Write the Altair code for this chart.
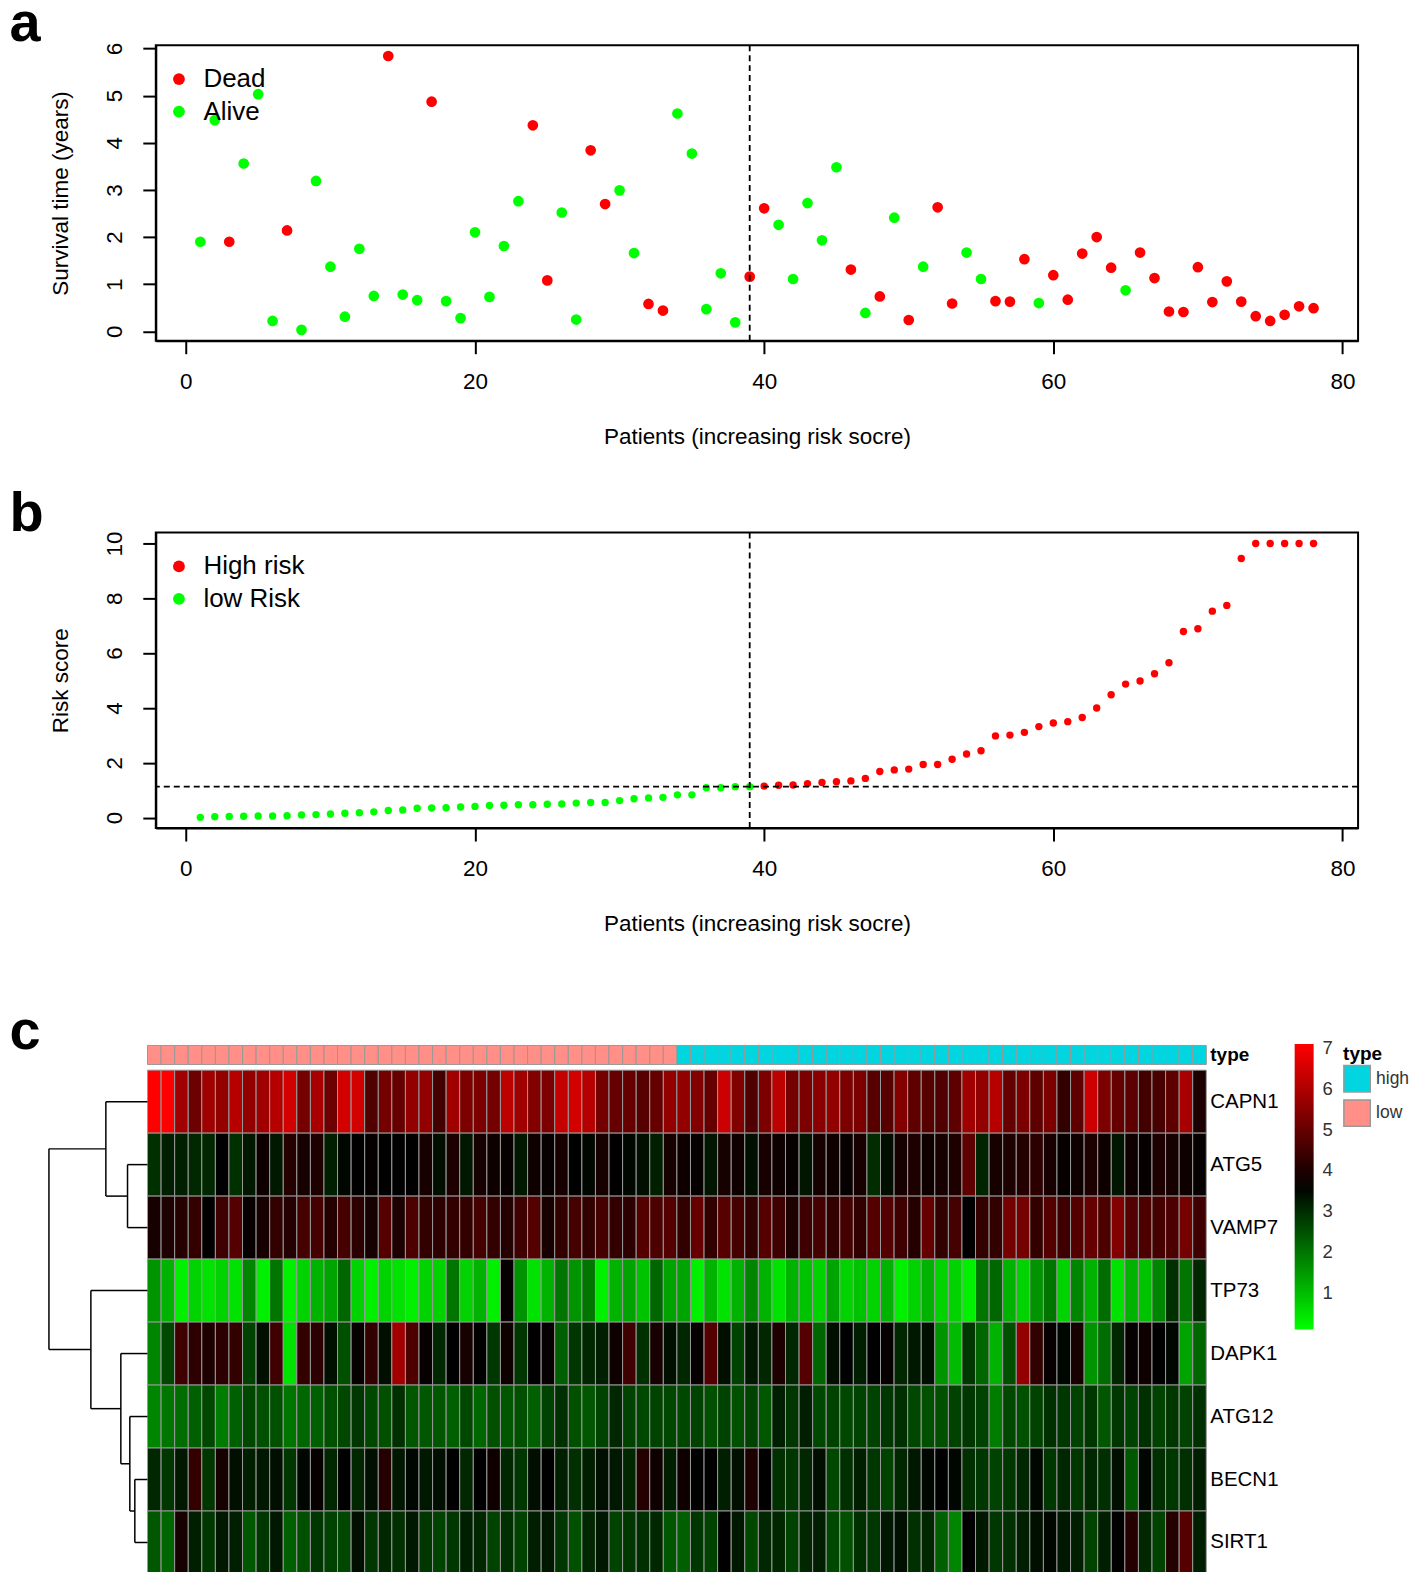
import altair as alt
import pandas as pd

FONT = "Liberation Sans"

# ---------------- data ----------------
patients = list(range(1, 79))

survival_years = [1.90, 4.48, 1.90, 3.56, 5.03, 0.22, 2.14, 0.03, 3.19, 1.37,
                  0.31, 1.75, 0.75, 5.84, 0.78, 0.66, 4.87, 0.64, 0.28, 2.10,
                  0.73, 1.81, 2.76, 4.37, 1.08, 2.52, 0.25, 3.84, 2.70, 2.99,
                  1.66, 0.58, 0.44, 4.62, 3.77, 0.47, 1.23, 0.19, 1.16, 2.61,
                  2.26, 1.11, 2.72, 1.93, 3.48, 1.31, 0.39, 0.74, 2.41, 0.24,
                  1.37, 2.63, 0.59, 1.67, 1.11, 0.64, 0.63, 1.53, 0.60, 1.19,
                  0.67, 1.65, 2.00, 1.35, 0.87, 1.67, 1.13, 0.42, 0.41, 1.36,
                  0.62, 1.06, 0.63, 0.32, 0.22, 0.35, 0.53, 0.49]

status = ["Alive", "Alive", "Dead", "Alive", "Alive", "Alive", "Dead", "Alive", "Alive", "Alive",
          "Alive", "Alive", "Alive", "Dead", "Alive", "Alive", "Dead", "Alive", "Alive", "Alive",
          "Alive", "Alive", "Alive", "Dead", "Dead", "Alive", "Alive", "Dead", "Dead", "Alive",
          "Alive", "Dead", "Dead", "Alive", "Alive", "Alive", "Alive", "Alive", "Dead", "Dead",
          "Alive", "Alive", "Alive", "Alive", "Alive", "Dead", "Alive", "Dead", "Alive", "Dead",
          "Alive", "Dead", "Dead", "Alive", "Alive", "Dead", "Dead", "Dead", "Alive", "Dead",
          "Dead", "Dead", "Dead", "Dead", "Alive", "Dead", "Dead", "Dead", "Dead", "Dead",
          "Dead", "Dead", "Dead", "Dead", "Dead", "Dead", "Dead", "Dead"]

risk_score = [0.01, 0.03, 0.04, 0.05, 0.06, 0.06, 0.07, 0.10, 0.11, 0.13,
              0.16, 0.18, 0.21, 0.26, 0.28, 0.34, 0.35, 0.36, 0.39, 0.41,
              0.44, 0.45, 0.47, 0.47, 0.49, 0.50, 0.53, 0.55, 0.55, 0.62,
              0.69, 0.72, 0.74, 0.83, 0.83, 1.09, 1.09, 1.13, 1.13, 1.15,
              1.18, 1.19, 1.24, 1.28, 1.31, 1.34, 1.43, 1.68, 1.74, 1.77,
              1.94, 1.94, 2.13, 2.32, 2.44, 2.98, 3.01, 3.11, 3.32, 3.45,
              3.50, 3.65, 4.00, 4.48, 4.87, 4.98, 5.25, 5.65, 6.79, 6.89,
              7.53, 7.74, 9.45, 10.0, 10.0, 10.0, 10.0, 10.0]

n_low = 39
risk_group = ["low Risk"] * n_low + ["High risk"] * (len(patients) - n_low)
sample_type = ["low"] * n_low + ["high"] * (len(patients) - n_low)
cutoff_patient = n_low
cutoff_score = risk_score[n_low - 1]

genes = ["CAPN1", "ATG5", "VAMP7", "TP73", "DAPK1", "ATG12", "BECN1", "SIRT1"]

CAPN1 = [7.1, 7.1, 5.8, 5.1, 5.8, 5.6, 6.1, 5.6, 5.8, 6.1, 6.5, 5.2, 5.9, 5.1, 6.5, 6.5, 4.7, 5.2, 5.0, 5.6,
         5.6, 4.5, 5.8, 5.3, 5.3, 5.2, 6.2, 5.8, 5.4, 5.3, 6.3, 6.5, 6.1, 5.2, 5.0, 5.0, 4.8, 5.0, 5.6,
         5.6, 5.4, 5.0, 6.4, 5.4, 4.7, 5.3, 6.2, 5.2, 5.3, 5.5, 5.6, 5.3, 5.3, 4.8, 4.8, 5.4, 4.9, 4.8, 4.7,
         4.9, 5.8, 5.6, 6.1, 5.0, 5.3, 4.9, 5.3, 4.3, 4.9, 6.4, 5.3, 5.0, 4.9, 4.5, 4.6, 4.9, 5.9, 4.0]
ATG5 = [2.95, 3.17, 3.17, 3.06, 3.06, 3.6, 2.95, 3.27, 3.8, 3.27, 4.1, 3.9, 4.0, 3.17, 3.5, 3.6, 3.65, 3.6, 3.6, 3.6,
        3.9, 3.4, 4.0, 3.27, 3.9, 3.8, 3.7, 3.27, 3.8, 3.7, 3.9, 3.6, 3.5, 3.9, 3.6, 3.5, 3.4, 3.17, 3.9,
        3.8, 3.7, 3.3, 3.9, 3.8, 3.4, 3.9, 3.8, 3.7, 3.3, 3.9, 3.8, 3.7, 3.9, 3.0, 3.4, 3.9, 4.0, 3.8, 3.9,
        4.0, 4.9, 3.1, 3.9, 4.0, 4.1, 4.2, 3.9, 3.7, 3.8, 4.0, 3.8, 3.3, 3.8, 3.7, 4.0, 3.9, 3.8, 3.7]
VAMP7 = [3.9, 4.0, 4.1, 4.3, 3.6, 4.45, 4.77, 3.7, 3.9, 4.3, 4.1, 4.55, 4.55, 4.1, 4.55, 4.2, 3.9, 4.77, 4.0, 4.66,
         4.3, 4.2, 4.3, 4.3, 4.55, 4.3, 4.1, 4.45, 4.77, 3.9, 4.3, 4.55, 4.3, 4.55, 4.3, 4.2, 4.77, 4.66, 4.77,
         4.3, 5.0, 4.3, 4.8, 4.55, 4.3, 4.77, 4.45, 4.0, 4.45, 4.55, 4.3, 4.55, 4.3, 4.77, 4.77, 4.45, 4.1, 5.0, 4.3,
         4.55, 3.6, 4.3, 4.3, 5.2, 5.2, 4.3, 4.77, 4.45, 4.77, 5.0, 4.66, 5.4, 4.77, 4.66, 4.55, 4.66, 5.2, 4.45]
TP73 = [1.57, 1.14, 0.3, 0.71, 0.5, 0.7, 0.5, 1.78, 0.3, 2.0, 0.3, 0.7, 1.14, 1.35, 2.2, 0.7, 0.3, 0.7, 0.5, 0.3,
        0.7, 0.7, 2.0, 0.7, 1.14, 0.3, 3.7, 1.57, 0.5, 1.14, 2.0, 1.57, 2.0, 0.3, 1.14, 1.35, 0.93, 2.2, 1.35,
        1.35, 0.3, 1.14, 0.5, 1.14, 1.78, 1.14, 0.5, 1.14, 0.93, 0.7, 1.35, 0.7, 0.93, 0.7, 1.14, 0.3, 0.7, 1.14, 0.7,
        0.7, 0.3, 2.0, 2.2, 1.14, 0.7, 1.57, 2.0, 0.7, 1.78, 1.14, 2.1, 0.5, 1.14, 0.93, 1.78, 2.95, 2.0, 3.06]
DAPK1 = [1.78, 2.63, 4.45, 4.2, 4.0, 4.2, 4.3, 2.7, 3.4, 4.45, 0.5, 4.3, 4.2, 3.4, 2.5, 3.7, 4.3, 3.4, 5.83, 4.66,
         3.7, 3.06, 3.6, 3.9, 3.6, 2.85, 3.8, 2.85, 3.6, 3.7, 2.3, 2.85, 3.06, 3.17, 3.8, 4.45, 2.95, 3.9, 3.4,
         3.06, 3.7, 4.77, 3.4, 2.7, 3.27, 3.06, 4.0, 3.06, 4.77, 2.2, 3.4, 3.6, 3.17, 3.6, 3.7, 3.06, 3.27, 3.4, 1.57,
         1.03, 2.85, 2.2, 1.14, 2.5, 5.62, 4.3, 3.7, 3.5, 3.9, 1.57, 2.1, 3.06, 3.7, 3.8, 3.6, 3.5, 1.35, 2.2]
ATG12 = [1.78, 2.0, 2.1, 2.3, 2.63, 1.9, 2.3, 2.63, 2.5, 2.5, 2.0, 2.2, 2.3, 2.5, 2.63, 2.85, 2.63, 2.5, 2.95, 2.4,
         2.4, 2.4, 2.3, 2.63, 2.2, 2.5, 2.4, 2.5, 2.3, 2.7, 2.95, 2.5, 2.4, 2.7, 3.06, 2.7, 2.63, 2.7, 2.63,
         2.63, 2.7, 2.5, 2.7, 2.5, 2.7, 2.4, 3.17, 2.85, 3.17, 2.63, 2.7, 2.63, 2.7, 2.7, 2.85, 2.95, 2.63, 2.5, 2.5,
         2.7, 2.85, 2.7, 1.9, 2.63, 2.5, 2.7, 2.95, 2.85, 2.7, 2.85, 2.4, 2.85, 2.7, 2.95, 2.7, 2.85, 2.7, 2.95]
BECN1 = [3.06, 2.85, 3.27, 4.3, 2.85, 3.9, 3.4, 3.17, 3.27, 3.4, 2.85, 3.5, 3.7, 3.06, 3.6, 3.06, 3.4, 4.1, 3.27, 3.5,
         3.27, 3.4, 3.6, 3.06, 3.6, 3.8, 3.06, 2.85, 3.4, 3.6, 3.17, 2.95, 3.17, 3.4, 3.27, 3.06, 4.1, 3.8, 3.17,
         3.8, 3.6, 3.6, 3.17, 3.4, 4.0, 3.6, 2.95, 2.85, 3.06, 3.4, 2.63, 2.95, 3.17, 2.85, 2.7, 3.06, 3.27, 3.5, 3.6,
         3.5, 2.95, 2.85, 2.7, 2.85, 3.06, 3.5, 2.85, 3.06, 2.85, 3.06, 2.95, 3.4, 2.4, 3.5, 2.95, 2.85, 2.95, 3.17]
SIRT1 = [2.4, 2.2, 3.9, 3.17, 2.85, 3.27, 3.17, 2.4, 2.85, 3.27, 2.3, 2.5, 2.85, 2.7, 2.63, 3.4, 2.85, 3.06, 2.95, 3.27,
         2.85, 2.7, 2.85, 3.17, 3.06, 2.7, 2.95, 2.7, 3.17, 3.27, 2.85, 2.5, 3.06, 3.27, 2.7, 2.85, 2.95, 3.06, 2.4,
         2.3, 2.85, 2.7, 3.6, 3.27, 2.63, 3.06, 3.06, 2.7, 3.06, 3.17, 2.63, 2.5, 2.95, 2.85, 3.27, 3.4, 2.95, 3.06, 2.3,
         1.78, 3.6, 3.27, 2.85, 2.95, 3.17, 3.4, 3.5, 3.27, 3.17, 2.7, 3.17, 3.6, 4.1, 3.06, 2.7, 4.1, 4.77, 3.17]

expression = {"CAPN1": CAPN1, "ATG5": ATG5, "VAMP7": VAMP7, "TP73": TP73,
              "DAPK1": DAPK1, "ATG12": ATG12, "BECN1": BECN1, "SIRT1": SIRT1}

# row dendrogram: merges (left, right, height)
merge_left = ["ATG5", "CAPN1", "BECN1", "ATG12", "DAPK1", "TP73", "m2"]
merge_right = ["VAMP7", "m1", "SIRT1", "m3", "m4", "m5", "m6"]
merge_height = [20.0, 41.7, 12.7, 17.7, 26.7, 56.7, 98.7]

# ---------------- tables ----------------
df_a = pd.DataFrame({"patient": patients, "survival": survival_years, "status": status})
df_b = pd.DataFrame({"patient": patients, "risk": risk_score, "group": risk_group})

hm_rows = []
for gi, g in enumerate(genes):
    for j, v in enumerate(expression[g]):
        hm_rows.append({"gene": g, "c0": j, "c1": j + 1, "r0": gi, "r1": gi + 1, "value": v})
df_hm = pd.DataFrame(hm_rows)

ANN_TOP, ANN_BOT = -0.392, -0.090
df_ann = pd.DataFrame({"c0": list(range(len(sample_type))),
                       "c1": [j + 1 for j in range(len(sample_type))],
                       "r0": [ANN_TOP] * len(sample_type),
                       "r1": [ANN_BOT] * len(sample_type),
                       "type": sample_type})

ypos = {g: i + 0.5 for i, g in enumerate(genes)}
hgt = {g: 0.0 for g in genes}
segs = []
for k, (l, r, h) in enumerate(zip(merge_left, merge_right, merge_height)):
    name = "m%d" % (k + 1)
    segs.append({"x": h, "x2": h, "y": ypos[l], "y2": ypos[r]})
    segs.append({"x": hgt[l], "x2": h, "y": ypos[l], "y2": ypos[l]})
    segs.append({"x": hgt[r], "x2": h, "y": ypos[r], "y2": ypos[r]})
    ypos[name] = (ypos[l] + ypos[r]) / 2
    hgt[name] = h
df_dend = pd.DataFrame(segs)

n_cols = len(patients)
df_glab = pd.DataFrame({"gene": genes, "xl": [n_cols] * len(genes), "yc": [i + 0.5 for i in range(len(genes))]})
df_tlab = pd.DataFrame({"t": ["type"], "xl": [n_cols], "yc": [(ANN_TOP + ANN_BOT) / 2]})

# ---------------- styles ----------------
RED, GREEN = "#ff0000", "#00ff00"
xscale_pat = alt.Scale(domain=[-2.08, 81.08], nice=False, zero=False)
x_axis = alt.Axis(values=[0, 20, 40, 60, 80], title="Patients (increasing risk socre)",
                  labelPadding=17, titlePadding=32, format="d")


def y_axis(vals, title):
    return alt.Axis(values=vals, title=title, labelAngle=270, labelAlign="center",
                    labelBaseline="alphabetic", labelPadding=21, titlePadding=31, format="d")


def legend_inside():
    return alt.Legend(orient="none", legendX=10.2, legendY=21, title=None, labelFontSize=26,
                      labelFont=FONT, labelColor="black", symbolType="circle", symbolSize=140,
                      symbolStrokeWidth=0, labelOffset=11.5, rowPadding=6.5, padding=0)


def panel_label(txt, y):
    return alt.Chart(pd.DataFrame({"t": [txt]})).mark_text(
        font=FONT, fontSize=56, fontWeight="bold", align="left", baseline="alphabetic", color="black"
    ).encode(text="t:N", x=alt.value(-146.5), y=alt.value(y))


box = alt.ViewBackground(stroke="black", strokeWidth=2, strokeOpacity=1)

# ---------------- panel a ----------------
pts_a = alt.Chart(df_a).mark_circle(size=115, opacity=1).encode(
    x=alt.X("patient:Q", scale=xscale_pat, axis=x_axis),
    y=alt.Y("survival:Q", scale=alt.Scale(domain=[-0.2, 6.07], nice=False, zero=False),
            axis=y_axis([0, 1, 2, 3, 4, 5, 6], "Survival time (years)")),
    color=alt.Color("status:N", scale=alt.Scale(domain=["Dead", "Alive"], range=[RED, GREEN]),
                    legend=legend_inside()),
)
vline_a = alt.Chart(pd.DataFrame({"cut": [cutoff_patient]})).mark_rule(
    color="black", strokeDash=[6, 4], strokeWidth=1.8).encode(x=alt.X("cut:Q", scale=xscale_pat))
panel_a = alt.layer(pts_a, vline_a, panel_label("a", -4)).properties(width=1204, height=296, view=box)

# ---------------- panel b ----------------
yscale_b = alt.Scale(domain=[-0.38, 10.4], nice=False, zero=False)
pts_b = alt.Chart(df_b).mark_circle(size=55, opacity=1).encode(
    x=alt.X("patient:Q", scale=xscale_pat, axis=x_axis),
    y=alt.Y("risk:Q", scale=yscale_b, axis=y_axis([0, 2, 4, 6, 8, 10], "Risk score")),
    color=alt.Color("group:N", scale=alt.Scale(domain=["High risk", "low Risk"], range=[RED, GREEN]),
                    legend=legend_inside()),
)
vline_b = alt.Chart(pd.DataFrame({"cut": [cutoff_patient]})).mark_rule(
    color="black", strokeDash=[6, 4], strokeWidth=1.8).encode(x=alt.X("cut:Q", scale=xscale_pat))
hline_b = alt.Chart(pd.DataFrame({"cut": [cutoff_score]})).mark_rule(
    color="black", strokeDash=[6, 4], strokeWidth=1.8).encode(y=alt.Y("cut:Q", scale=yscale_b))
panel_b = alt.layer(pts_b, vline_b, hline_b, panel_label("b", -1.5)).properties(width=1204, height=296, view=box)

# ---------------- panel c ----------------
hx = alt.Scale(domain=[0.61, n_cols], nice=False, zero=False)
hy = alt.Scale(domain=[-0.80, len(genes)], nice=False, zero=False, reverse=True)

heat = alt.Chart(df_hm).mark_rect(stroke="#999999", strokeWidth=1).encode(
    x=alt.X("c0:Q", scale=hx, axis=None), x2="c1:Q",
    y=alt.Y("r0:Q", scale=hy, axis=None), y2="r1:Q",
    color=alt.Color("value:Q",
                    scale=alt.Scale(domain=[0.1, 3.6, 7.1], range=["#00ff00", "#000000", "#ff0000"],
                                    interpolate="rgb"),
                    legend=alt.Legend(orient="none", legendX=1140.5, legendY=24.2, title=None,
                                      direction="vertical", gradientLength=286, gradientThickness=19,
                                      gradientStrokeWidth=0, values=[1, 2, 3, 4, 5, 6, 7],
                                      labelFontSize=18.5, labelFont=FONT, labelColor="#333333",
                                      labelOffset=9, padding=0, labelOverlap=False)),
)
ann = alt.Chart(df_ann).mark_rect(stroke="#999999", strokeWidth=1).encode(
    x=alt.X("c0:Q", scale=hx, axis=None), x2="c1:Q",
    y=alt.Y("r0:Q", scale=hy, axis=None), y2="r1:Q",
    color=alt.Color("type:N", scale=alt.Scale(domain=["high", "low"], range=["#00d5e0", "#ff8f87"]),
                    legend=alt.Legend(orient="none", legendX=1189, legendY=25, title="type",
                                      titleFont=FONT, titleFontSize=19, titleFontWeight="bold",
                                      titleColor="black", titlePadding=1,
                                      symbolType="square", symbolSize=700, symbolStrokeColor="#999999",
                                      symbolStrokeWidth=1.5, symbolOpacity=1,
                                      labelFont=FONT, labelFontSize=17.5, labelColor="#333333",
                                      labelOffset=5, rowPadding=0.5, padding=0)),
)
dend = alt.Chart(df_dend).mark_rule(color="black", strokeWidth=1.5).encode(
    x=alt.X("x:Q", scale=alt.Scale(domain=[0, max(merge_height)], range=[-8.3, -107.0]), axis=None),
    x2="x2:Q",
    y=alt.Y("y:Q", scale=hy, axis=None), y2="y2:Q",
)
glab = alt.Chart(df_glab).mark_text(font=FONT, fontSize=20.5, align="left", baseline="middle",
                                    dx=4, color="black").encode(
    x=alt.X("xl:Q", scale=hx, axis=None), y=alt.Y("yc:Q", scale=hy, axis=None), text="gene:N")
tlab = alt.Chart(df_tlab).mark_text(font=FONT, fontSize=19, fontWeight="bold", align="left",
                                    baseline="middle", dx=4, color="black").encode(
    x=alt.X("xl:Q", scale=hx, axis=None), y=alt.Y("yc:Q", scale=hy, axis=None), text="t:N")

panel_c = alt.layer(ann, heat, dend, glab, tlab, panel_label("c", 29.5)).resolve_scale(
    x="independent", color="independent").properties(width=1052, height=555)

chart = alt.vconcat(panel_a, panel_b, panel_c, spacing=192, bounds="flush").resolve_scale(
    x="independent", y="independent", color="independent"
).resolve_legend(color="independent").properties(
    padding={"left": 0, "top": -13.9, "right": 0, "bottom": -4}
).configure(font=FONT).configure_view(strokeOpacity=0).configure_axis(
    domainColor="black", domainWidth=2, tickColor="black", tickWidth=2, tickSize=13,
    labelFont=FONT, labelFontSize=22.5, labelColor="black", titleFont=FONT, titleFontSize=22.5,
    titleFontWeight="normal", titleColor="black", grid=False, labelFlush=False
)

chart.save("out.html", embed_options={"renderer": "svg", "actions": False})
